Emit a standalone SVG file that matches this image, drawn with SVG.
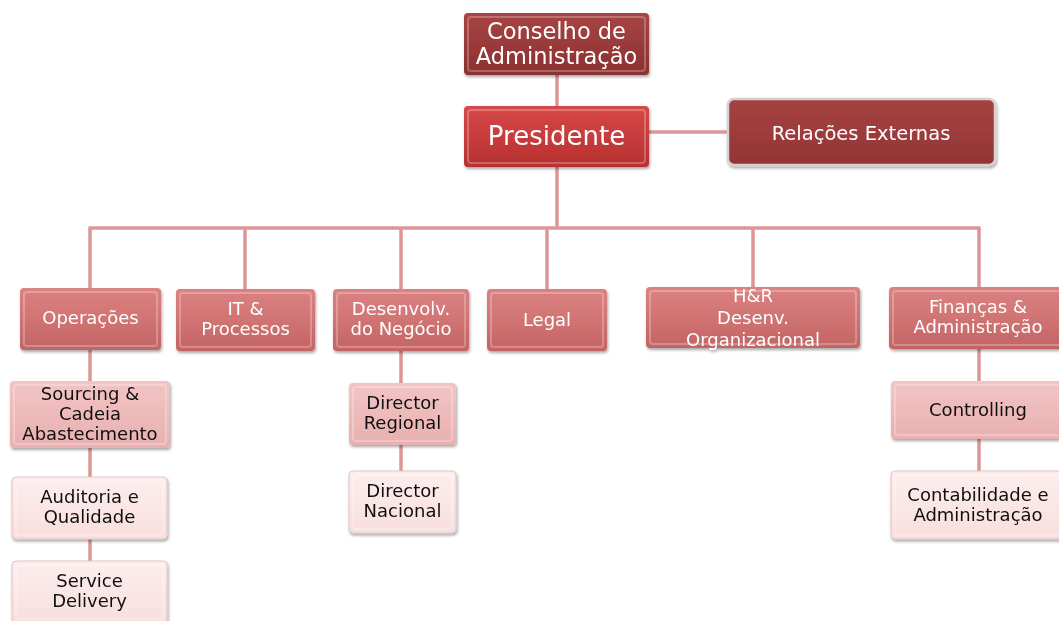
<svg xmlns="http://www.w3.org/2000/svg" width="1059" height="621" viewBox="0 0 1059 621">
<style>
text{font-family:"DejaVu Sans","Verdana",sans-serif;text-anchor:middle}
.w{fill:#ffffff}
.k{fill:#111111}
.m{font-size:18px}
.conn line{stroke:#dc9696;stroke-width:3.5}
.bev{fill:none;stroke:#ffffff;stroke-opacity:0.25;stroke-width:2}
</style>
<defs>
<linearGradient id="gDark" x1="0" y1="0" x2="0" y2="1"><stop offset="0" stop-color="#a84444"/><stop offset="1" stop-color="#8c3030"/></linearGradient>
<linearGradient id="gPres" x1="0" y1="0" x2="0" y2="1"><stop offset="0" stop-color="#d84848"/><stop offset="1" stop-color="#b63030"/></linearGradient>
<linearGradient id="gRel" x1="0" y1="0" x2="0" y2="1"><stop offset="0" stop-color="#a64242"/><stop offset="1" stop-color="#933535"/></linearGradient>
<linearGradient id="gMid" x1="0" y1="0" x2="0" y2="1"><stop offset="0" stop-color="#dc8282"/><stop offset="1" stop-color="#c46464"/></linearGradient>
<linearGradient id="gL3" x1="0" y1="0" x2="0" y2="1"><stop offset="0" stop-color="#f3c4c4"/><stop offset="1" stop-color="#e8b0b0"/></linearGradient>
<linearGradient id="gL4" x1="0" y1="0" x2="0" y2="1"><stop offset="0" stop-color="#fdeeee"/><stop offset="1" stop-color="#f8dede"/></linearGradient>
<filter id="sh" x="-10%" y="-10%" width="120%" height="130%"><feDropShadow dx="1" dy="2" stdDeviation="1.5" flood-color="#000" flood-opacity="0.35"/></filter>
</defs>
<g class="conn">
<line x1="557" y1="75" x2="557" y2="106"/>
<line x1="649" y1="132" x2="728" y2="132"/>
<line x1="557" y1="167" x2="557" y2="228"/>
<line x1="88.5" y1="228" x2="980.5" y2="228"/>
<line x1="90" y1="228" x2="90" y2="288"/>
<line x1="245" y1="228" x2="245" y2="289"/>
<line x1="401" y1="228" x2="401" y2="289"/>
<line x1="547" y1="228" x2="547" y2="289"/>
<line x1="753" y1="228" x2="753" y2="287"/>
<line x1="979" y1="228" x2="979" y2="287"/>
<line x1="90" y1="350" x2="90" y2="381"/>
<line x1="90" y1="448" x2="90" y2="477"/>
<line x1="90" y1="539" x2="90" y2="561"/>
<line x1="401" y1="351" x2="401" y2="383"/>
<line x1="401" y1="445" x2="401" y2="471"/>
<line x1="979" y1="349" x2="979" y2="381"/>
<line x1="979" y1="439" x2="979" y2="471"/>
</g>
<g id="conselho" filter="url(#sh)">
<rect x="464" y="13" width="185" height="62" rx="4" fill="url(#gDark)"/>
<rect x="468" y="17" width="177" height="54" rx="3" class="bev"/>
<text x="556.5" y="39" font-size="22.5" class="w">Conselho de</text>
<text x="556.5" y="64" font-size="22.5" class="w">Administração</text>
</g>
<g id="presidente" filter="url(#sh)">
<rect x="464" y="106" width="185" height="61" rx="4" fill="url(#gPres)"/>
<rect x="468" y="110" width="177" height="53" rx="3" class="bev"/>
<text x="556.5" y="145" font-size="26" class="w">Presidente</text>
</g>
<g id="relacoes" filter="url(#sh)">
<rect x="728" y="99" width="267" height="66" rx="6" fill="url(#gRel)" stroke="#d8d0d0" stroke-width="2.5"/>
<text x="861" y="140" font-size="19.5" class="w">Relações Externas</text>
</g>
<g id="operacoes" filter="url(#sh)">
<rect x="20" y="288" width="141" height="62" rx="4" fill="url(#gMid)"/>
<rect x="24" y="292" width="133" height="54" rx="3" class="bev"/>
<text x="90.5" y="324" class="w m">Operações</text>
</g>
<g id="it" filter="url(#sh)">
<rect x="176" y="289" width="139" height="62" rx="4" fill="url(#gMid)"/>
<rect x="180" y="293" width="131" height="54" rx="3" class="bev"/>
<text x="245.5" y="315" class="w m">IT &amp;</text>
<text x="245.5" y="335" class="w m">Processos</text>
</g>
<g id="desenvolv" filter="url(#sh)">
<rect x="333" y="289" width="136" height="62" rx="4" fill="url(#gMid)"/>
<rect x="337" y="293" width="128" height="54" rx="3" class="bev"/>
<text x="401" y="315" class="w m">Desenvolv.</text>
<text x="401" y="335" class="w m">do Negócio</text>
</g>
<g id="legal" filter="url(#sh)">
<rect x="487" y="289" width="120" height="62" rx="4" fill="url(#gMid)"/>
<rect x="491" y="293" width="112" height="54" rx="3" class="bev"/>
<text x="547" y="326" class="w m">Legal</text>
</g>
<g id="hr" filter="url(#sh)">
<rect x="646" y="287" width="214" height="61" rx="4" fill="url(#gMid)"/>
<rect x="650" y="291" width="206" height="53" rx="3" class="bev"/>
<text x="753" y="302" class="w m">H&amp;R</text>
<text x="753" y="324" class="w m">Desenv.</text>
<text x="753" y="346" class="w m">Organizacional</text>
</g>
<g id="financas" filter="url(#sh)">
<rect x="889" y="287" width="180" height="62" rx="4" fill="url(#gMid)"/>
<rect x="893" y="291" width="172" height="54" rx="3" class="bev"/>
<text x="978" y="313" class="w m">Finanças  &amp;</text>
<text x="978" y="333" class="w m">Administração</text>
</g>
<g id="sourcing" filter="url(#sh)">
<rect x="10" y="381" width="160" height="67" rx="4" fill="url(#gL3)"/>
<rect x="14" y="385" width="152" height="59" rx="3" class="bev"/>
<text x="90" y="400" class="k m">Sourcing &amp;</text>
<text x="90" y="420" class="k m">Cadeia</text>
<text x="90" y="440" class="k m">Abastecimento</text>
</g>
<g id="auditoria" filter="url(#sh)">
<rect x="12" y="477" width="155" height="62" rx="4" fill="url(#gL4)" stroke="#e6c4c4" stroke-width="1"/>
<rect x="16" y="481" width="147" height="54" rx="3" class="bev"/>
<text x="89.5" y="503" class="k m">Auditoria e</text>
<text x="89.5" y="523" class="k m">Qualidade</text>
</g>
<g id="service" filter="url(#sh)">
<rect x="12" y="561" width="155" height="62" rx="4" fill="url(#gL4)" stroke="#e6c4c4" stroke-width="1"/>
<rect x="16" y="565" width="147" height="54" rx="3" class="bev"/>
<text x="89.5" y="587" class="k m">Service</text>
<text x="89.5" y="607" class="k m">Delivery</text>
</g>
<g id="regional" filter="url(#sh)">
<rect x="349" y="383" width="107" height="62" rx="4" fill="url(#gL3)"/>
<rect x="353" y="387" width="99" height="54" rx="3" class="bev"/>
<text x="402.5" y="409" class="k m">Director</text>
<text x="402.5" y="429" class="k m">Regional</text>
</g>
<g id="nacional" filter="url(#sh)">
<rect x="349" y="471" width="107" height="62" rx="4" fill="url(#gL4)" stroke="#e6c4c4" stroke-width="1"/>
<rect x="353" y="475" width="99" height="54" rx="3" class="bev"/>
<text x="402.5" y="497" class="k m">Director</text>
<text x="402.5" y="517" class="k m">Nacional</text>
</g>
<g id="controlling" filter="url(#sh)">
<rect x="891" y="381" width="178" height="58" rx="4" fill="url(#gL3)"/>
<rect x="895" y="385" width="170" height="50" rx="3" class="bev"/>
<text x="978" y="416" class="k m">Controlling</text>
</g>
<g id="contabilidade" filter="url(#sh)">
<rect x="891" y="471" width="178" height="68" rx="4" fill="url(#gL4)" stroke="#e6c4c4" stroke-width="1"/>
<rect x="895" y="475" width="170" height="60" rx="3" class="bev"/>
<text x="978" y="501" class="k m">Contabilidade e</text>
<text x="978" y="521" class="k m">Administração</text>
</g>
</svg>
